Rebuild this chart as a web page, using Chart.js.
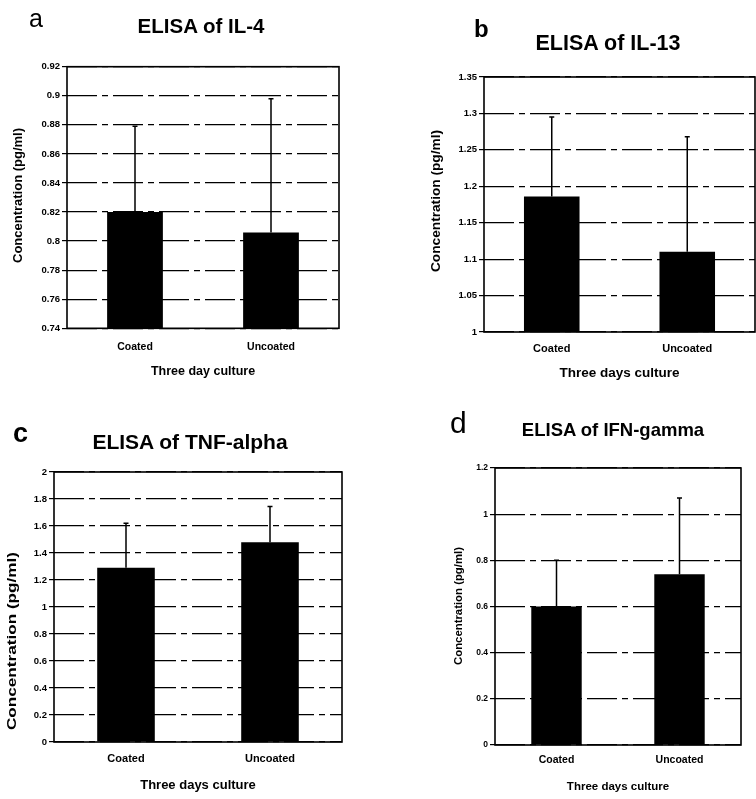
<!DOCTYPE html>
<html>
<head>
<meta charset="utf-8">
<script src="https://cdn.jsdelivr.net/npm/chart.js"></script>
<style>
  body { margin: 0; background: #fff; width: 756px; height: 799px; position: relative; overflow: hidden;
         font-family: 'Liberation Sans', Arial, sans-serif; }
  canvas { position: absolute; }
  .letter { position: absolute; color: #000; line-height: 1; white-space: nowrap; }
  .title { position: absolute; color: #000; line-height: 1; white-space: nowrap; font-weight: bold;
           transform: translateX(-50%); }
</style>
</head>
<body>
<canvas id="chartA" width="378" height="400" style="left:0;top:0"></canvas>
<canvas id="chartB" width="378" height="400" style="left:378px;top:0"></canvas>
<canvas id="chartC" width="378" height="399" style="left:0;top:400px"></canvas>
<canvas id="chartD" width="378" height="399" style="left:378px;top:400px"></canvas>

<div class="letter" style="left:29px;top:6px;font-size:25px">a</div>
<div class="letter" style="left:474px;top:17px;font-size:24px;font-weight:bold">b</div>
<div class="letter" style="left:13px;top:420px;font-size:27px;font-weight:bold">c</div>
<div class="letter" style="left:450px;top:408px;font-size:30px">d</div>

<div class="title" style="left:201px;top:16px;font-size:20.5px">ELISA of IL-4</div>
<div class="title" style="left:608px;top:33px;font-size:21.5px">ELISA of IL-13</div>
<div class="title" style="left:190px;top:431px;font-size:21px">ELISA of TNF-alpha</div>
<div class="title" style="left:613px;top:421px;font-size:18.5px">ELISA of IFN-gamma</div>

<script>
// data
const categories = ['Coated', 'Uncoated'];

const il4Mean = [0.82, 0.806];
const il4Sd = [0.059, 0.092];
const il4Ticks = [0.74, 0.76, 0.78, 0.8, 0.82, 0.84, 0.86, 0.88, 0.9, 0.92];

const il13Mean = [1.186, 1.11];
const il13Sd = [0.109, 0.158];
const il13Ticks = [1, 1.05, 1.1, 1.15, 1.2, 1.25, 1.3, 1.35];

const tnfMean = [1.29, 1.48];
const tnfSd = [0.33, 0.265];
const tnfTicks = [0, 0.2, 0.4, 0.6, 0.8, 1, 1.2, 1.4, 1.6, 1.8, 2];

const ifnMean = [0.6, 0.74];
const ifnSd = [0.2, 0.33];
const ifnTicks = [0, 0.2, 0.4, 0.6, 0.8, 1, 1.2];

const yTitleText = 'Concentration (pg/ml)';
const FONT = "'Liberation Sans', Arial, sans-serif";

// error bars (upper only), plot frame and the stretched y title of the scan
const frameAndErrors = {
	id: 'frameAndErrors',
	afterDatasetsDraw(chart, args, opts) {
		const ctx = chart.ctx;
		const a = chart.chartArea;
		const y = chart.scales.y;
		const mean = chart.data.datasets[0].data;
		ctx.save();
		ctx.strokeStyle = '#000';
		ctx.lineWidth = 1.5;
		chart.getDatasetMeta(0).data.forEach((bar, i) => {
			const y0 = y.getPixelForValue(mean[i]);
			const y1 = y.getPixelForValue(mean[i] + opts.sd[i]);
			ctx.beginPath();
			ctx.moveTo(bar.x, y0);
			ctx.lineTo(bar.x, y1);
			ctx.moveTo(bar.x - 2.5, y1);
			ctx.lineTo(bar.x + 2.5, y1);
			ctx.stroke();
		});
		ctx.lineWidth = 1.6;
		ctx.strokeRect(a.left, a.top, a.right - a.left, a.bottom - a.top);
		ctx.restore();
	},
	afterDraw(chart, args, opts) {
		const t = opts.yTitle;
		const ctx = chart.ctx;
		ctx.save();
		ctx.font = 'bold ' + t.size + 'px ' + FONT;
		const w = ctx.measureText(yTitleText).width;
		ctx.translate(t.x, (t.y0 + t.y1) / 2);
		ctx.rotate(-Math.PI / 2);
		ctx.scale((t.y1 - t.y0) / w, 1);
		ctx.fillStyle = '#000';
		ctx.textAlign = 'center';
		ctx.textBaseline = 'middle';
		ctx.fillText(yTitleText, 0, 0);
		ctx.restore();
	}
};

function makePanel(p) {
	const [cx, cy, cw, ch] = p.box;
	const [L, T, R, B] = p.area;
	const W = L - cx;
	const xAxisBottom = p.xTitleY + 0.6 * p.fonts.xTitle;
	const H = xAxisBottom - B;

	return new Chart(document.getElementById(p.id), {
		type: 'bar',
		data: {
			labels: categories,
			datasets: [{
				data: p.mean,
				backgroundColor: '#000',
				borderWidth: 0,
				barPercentage: p.barPct,
				categoryPercentage: 1
			}]
		},
		options: {
			responsive: false,
			animation: false,
			layout: { padding: { left: 0, top: T - cy, right: cx + cw - R, bottom: cy + ch - xAxisBottom } },
			plugins: {
				legend: { display: false },
				tooltip: { enabled: false },
				frameAndErrors: {
					sd: p.sd,
					yTitle: { x: p.yTitle[0] - cx, y0: p.yTitle[1] - cy, y1: p.yTitle[2] - cy, size: p.fonts.yTitle }
				}
			},
			scales: {
				x: {
					grid: { display: false, drawTicks: false },
					border: { display: false },
					ticks: {
						color: '#000',
						maxRotation: 0,
						autoSkip: false,
						padding: p.xTickY - B - 0.6 * p.fonts.xTick,
						font: { family: FONT, size: p.fonts.xTick, weight: 'bold' }
					},
					title: {
						display: true,
						text: p.xTitle,
						color: '#000',
						padding: 0,
						font: { family: FONT, size: p.fonts.xTitle, weight: 'bold' }
					},
					afterFit: s => { s.height = H; }
				},
				y: {
					min: p.ticks[0],
					max: p.ticks[p.ticks.length - 1],
					grid: { color: '#000', lineWidth: 1.2, tickLength: 5, tickColor: '#000', tickWidth: 1.2 },
					border: { display: false, dash: [30, 5, 6, 5] },
					ticks: {
						color: '#000',
						padding: 2,
						font: { family: FONT, size: p.fonts.yTick, weight: 'bold' },
						callback: v => String(parseFloat(Number(v).toFixed(3)))
					},
					afterBuildTicks: s => { s.ticks = p.ticks.map(v => ({ value: v })); },
					afterFit: s => { s.width = W; }
				}
			}
		},
		plugins: [frameAndErrors]
	});
}

makePanel({
	id: 'chartA', box: [0, 0, 378, 400], area: [67, 66.7, 339, 328.3],
	yTitle: [19, 128, 263], xTickY: 347, xTitleY: 372, barPct: 0.41,
	fonts: { yTick: 9.5, xTick: 10.5, yTitle: 12, xTitle: 12.5 },
	xTitle: 'Three day culture', mean: il4Mean, sd: il4Sd, ticks: il4Ticks
});
makePanel({
	id: 'chartB', box: [378, 0, 378, 400], area: [484, 77, 755, 332],
	yTitle: [436, 130, 272], xTickY: 349, xTitleY: 373, barPct: 0.41,
	fonts: { yTick: 9.5, xTick: 11, yTitle: 13, xTitle: 13.5 },
	xTitle: 'Three days culture', mean: il13Mean, sd: il13Sd, ticks: il13Ticks
});
makePanel({
	id: 'chartC', box: [0, 400, 378, 399], area: [54, 472, 342, 742],
	yTitle: [12.5, 552, 730], xTickY: 759, xTitleY: 785, barPct: 0.40,
	fonts: { yTick: 9.5, xTick: 11, yTitle: 12.5, xTitle: 13 },
	xTitle: 'Three days culture', mean: tnfMean, sd: tnfSd, ticks: tnfTicks
});
makePanel({
	id: 'chartD', box: [378, 400, 378, 399], area: [495, 468, 741, 745],
	yTitle: [459, 547, 665], xTickY: 760, xTitleY: 787, barPct: 0.41,
	fonts: { yTick: 8.5, xTick: 10.5, yTitle: 10.5, xTitle: 11.5 },
	xTitle: 'Three days culture', mean: ifnMean, sd: ifnSd, ticks: ifnTicks
});
</script>
</body>
</html>
